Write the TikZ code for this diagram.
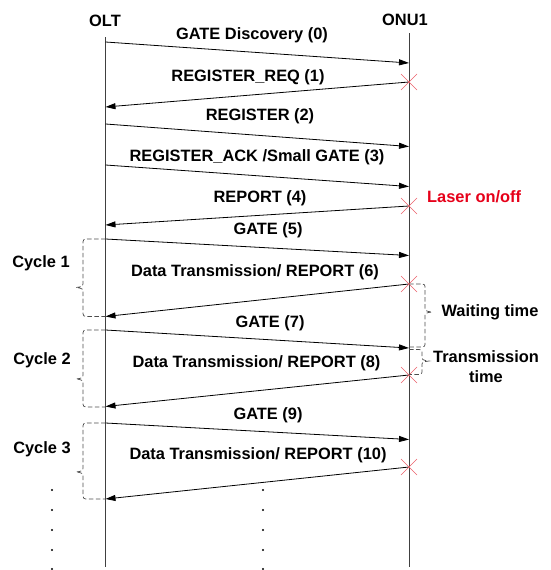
\documentclass[tikz,border=0pt]{standalone}
\usepackage{fontspec}
\setmainfont{Liberation Sans}
\usetikzlibrary{arrows.meta}
\definecolor{laser}{RGB}{230,0,25}
\definecolor{xred}{RGB}{235,95,105}
\newcommand{\mybraceL}[3]{% top, tip, bottom
  \draw[brace] (105.5,#1) -- (89,#1) .. controls (83,#1) .. (83,#1+6) -- (83,#2-6)
    .. controls (83,#2-1) .. (76,#2) .. controls (83,#2+1) .. (83,#2+6)
    -- (83,#3-6) .. controls (83,#3) .. (89,#3) -- (105.5,#3);}
\newcommand{\mybraceR}[4]{% top, tip, bottom, x
  \draw[brace] (409,#1) -- (#4-6,#1) .. controls (#4,#1) .. (#4,#1+5) -- (#4,#2-5)
    .. controls (#4,#2-1) .. (#4+7,#2) .. controls (#4,#2+1) .. (#4,#2+5)
    -- (#4,#3-5) .. controls (#4,#3) .. (#4-6,#3) -- (409,#3);}
\begin{document}
\begin{tikzpicture}[x=1pt,y=-1pt,
  lbl/.style={font=\bfseries\fontsize{16.4}{20}\selectfont, inner sep=0pt},
  msg/.style={line width=0.8pt, -{Triangle[length=10pt,width=6pt]}},
  life/.style={line width=0.9pt, black!75},
  xmark/.style={xred, line width=0.6pt},
  brace/.style={dash pattern=on 4.5pt off 2.5pt, line width=0.7pt, black!70}]
\useasboundingbox (0,0) rectangle (550,570);
% headers
\node[lbl] (olt) at (105,21) {OLT};
\node[lbl] (onu) at (405,20) {ONU1};
% lifelines
\coordinate (olttop) at (105.5,37);
\coordinate (oltbot) at (105.5,567);
\coordinate (onutop) at (409,33);
\coordinate (onubot) at (409,567);
\draw[life] (olttop) -- (oltbot);
\draw[life] (onutop) -- (onubot);
% message end points
\foreach \i/\a/\b in {0/42/63, 1/107/82, 2/124/146.5, 3/165/186.5, 4/225/206,
  5/239/255.5, 6/316.5/284, 7/330/348, 8/406.5/375, 9/423/439.5, 10/499/467}{
  \coordinate (o\i) at (105.5,\a);
  \coordinate (n\i) at (409,\b);
}
% messages OLT -> ONU
\foreach \i in {0,2,3,5,7,9}{ \draw[msg] (o\i) -- (n\i); }
% messages ONU -> OLT
\foreach \i in {1,4,6,8,10}{
  \draw[msg] (n\i) -- (o\i);
  \draw[xmark] ([shift={(-8,-8)}]n\i) -- ([shift={(8,8)}]n\i);
  \draw[xmark] ([shift={(-8,8)}]n\i) -- ([shift={(8,-8)}]n\i);
}
% labels
\node[lbl] (l0) at (252,35) {GATE Discovery (0)};
\node[lbl] (l1) at (248,77.5) {REGISTER\_REQ (1)};
\node[lbl] (l2) at (260,116.5) {REGISTER (2)};
\node[lbl] (l3) at (257,157) {REGISTER\_ACK /Small GATE (3)};
\node[lbl] (l4) at (260,198) {REPORT (4)};
\node[lbl] (l5) at (268,230) {GATE (5)};
\node[lbl] (l6) at (255,272.5) {Data Transmission/ REPORT (6)};
\node[lbl] (l7) at (270,323) {GATE (7)};
\node[lbl] (l8) at (256.5,363.5) {Data Transmission/ REPORT (8)};
\node[lbl] (l9) at (268,415.5) {GATE (9)};
\node[lbl] (l10) at (258,455) {Data Transmission/ REPORT (10)};
\node[lbl, text=laser, anchor=west] (laser) at (427,197) {Laser on/off};
% cycles
\mybraceL{239}{287.5}{316.5}
\mybraceL{330}{379}{407}
\mybraceL{423}{472}{499}
\node[lbl] (c1) at (41,263) {Cycle 1};
\node[lbl] (c2) at (42,360) {Cycle 2};
\node[lbl] (c3) at (42,449) {Cycle 3};
% right braces
\mybraceR{284}{312}{347}{425}
\mybraceR{349.5}{361}{374.5}{422}
\node[lbl] (wait) at (490,312) {Waiting time};
\node[lbl, align=center] (trans) at (486,367) {Transmission\\time};
% continuation dots
\foreach \y in {490,510,530,550,569}{
  \fill (52,\y) circle (1.1pt);
  \fill (263,\y) circle (1.1pt);
}
\end{tikzpicture}
\end{document}
